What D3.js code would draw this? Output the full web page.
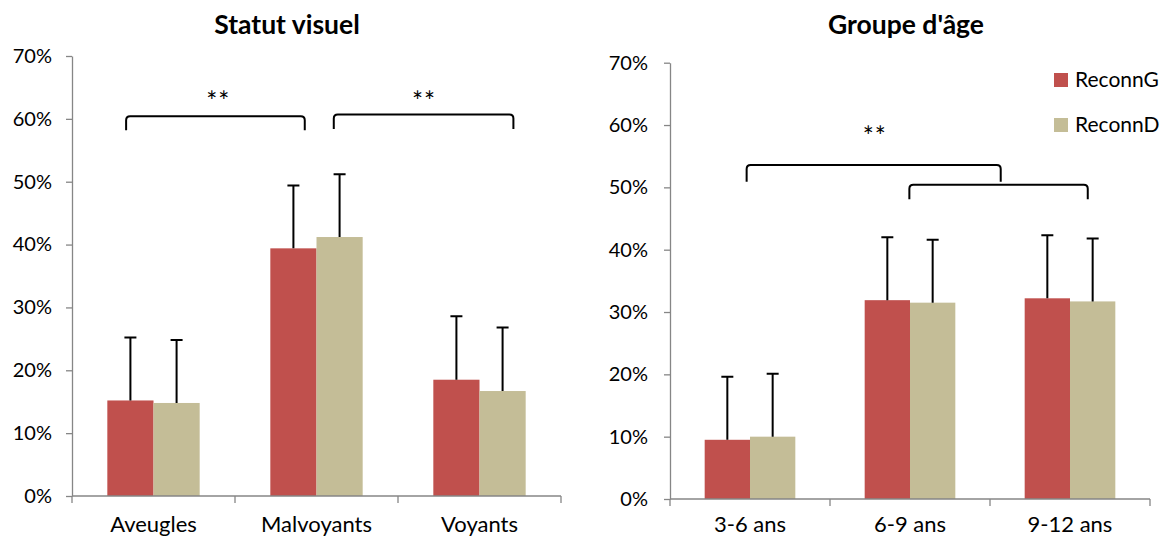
<!DOCTYPE html>
<html>
<head>
<meta charset="utf-8">
<script src="https://cdn.jsdelivr.net/npm/d3@7"></script>
<style>
  body { margin: 0; background: #fff; }
  text { font-family: Lato, "Noto Sans", sans-serif; fill: #000; }
</style>
</head>
<body>
<div id="chart"></div>
<script>
// data
const series = ["ReconnG", "ReconnD"];
const yTicks = [0, 0.1, 0.2, 0.3, 0.4, 0.5, 0.6, 0.7];

const visuelCategories = ["Aveugles", "Malvoyants", "Voyants"];
const visuelReconnG = [0.152, 0.394, 0.185];
const visuelReconnD = [0.148, 0.412, 0.167];
const visuelErrG = [0.100, 0.100, 0.101];
const visuelErrD = [0.100, 0.100, 0.101];

const ageCategories = ["3-6 ans", "6-9 ans", "9-12 ans"];
const ageReconnG = [0.095, 0.319, 0.322];
const ageReconnD = [0.100, 0.315, 0.317];
const ageErrG = [0.101, 0.101, 0.101];
const ageErrD = [0.101, 0.101, 0.101];

// significance brackets: [from, to] in category units, top / leg end in value units
const visuelBrackets = [
  {from: 0.332, to: 1.428, top: 0.604, end: 0.582},
  {from: 1.606, to: 2.708, top: 0.607, end: 0.584}
];
const visuelStars = [{at: 0.898, v: 0.613}, {at: 2.16, v: 0.613}];
const ageBrackets = [
  {from: 0.479, to: 2.067, top: 0.536, end: 0.509},
  {from: 1.496, to: 2.611, top: 0.504, end: 0.481}
];
const ageStars = [{at: 1.28, v: 0.566}];

const colors = {ReconnG: "#C0504D", ReconnD: "#C4BD97"};
const axisColor = "#868686";

const width = 1168, height = 539;
const svg = d3.create("svg").attr("width", width).attr("height", height);

function drawPanel(opts) {
  const g = svg.append("g");
  const x = d3.scaleBand().domain(opts.categories).range([opts.left, opts.right]);
  const xLin = d3.scaleLinear().domain([0, opts.categories.length]).range([opts.left, opts.right]);
  const xSub = d3.scaleBand().domain(series).range([0, x.bandwidth()]).paddingOuter(0.765);
  const y = d3.scaleLinear().domain([0, 0.7]).range([opts.bottom, opts.top]);

  // title
  g.append("text")
    .attr("x", opts.titleX)
    .attr("y", 34)
    .attr("text-anchor", "middle")
    .attr("font-size", 26.5)
    .attr("font-weight", "bold")
    .text(opts.title);

  // y axis
  g.append("g")
    .attr("transform", `translate(${opts.left},0)`)
    .call(d3.axisLeft(y).tickValues(yTicks).tickFormat(d3.format(".0%")).tickSize(6).tickPadding(opts.pad).tickSizeOuter(0))
    .call(a => a.selectAll("line, path").attr("stroke", axisColor).attr("stroke-width", 1.3))
    .call(a => a.selectAll("text").attr("font-size", 20).attr("font-family", "Lato, sans-serif").attr("fill", "#000"));

  // bars
  const rows = opts.categories.map((c, i) => ({
    cat: c,
    vals: [
      {s: "ReconnG", v: opts.g[i], e: opts.eg[i]},
      {s: "ReconnD", v: opts.d[i], e: opts.ed[i]}
    ]
  }));
  const grp = g.selectAll(".grp").data(rows).enter().append("g")
    .attr("transform", d => `translate(${x(d.cat)},0)`);
  grp.selectAll("rect").data(d => d.vals).enter().append("rect")
    .attr("x", d => xSub(d.s))
    .attr("width", xSub.bandwidth())
    .attr("y", d => y(d.v))
    .attr("height", d => y(0) - y(d.v))
    .attr("fill", d => colors[d.s]);
  // error bars (upper only)
  grp.selectAll(".err").data(d => d.vals).enter().append("path")
    .attr("d", d => {
      const cx = xSub(d.s) + xSub.bandwidth() / 2;
      return `M${cx},${y(d.v)}V${y(d.v + d.e)}M${cx - 6},${y(d.v + d.e)}H${cx + 6}`;
    })
    .attr("stroke", "#000")
    .attr("stroke-width", 2)
    .attr("fill", "none");

  // x axis
  g.append("line")
    .attr("x1", opts.left).attr("x2", opts.right)
    .attr("y1", y(0)).attr("y2", y(0))
    .attr("stroke", axisColor).attr("stroke-width", 1.3);
  g.selectAll(".xt").data(d3.range(opts.categories.length + 1)).enter().append("line")
    .attr("x1", d => xLin(d)).attr("x2", d => xLin(d))
    .attr("y1", y(0)).attr("y2", y(0) + 7)
    .attr("stroke", axisColor).attr("stroke-width", 1.3);
  g.selectAll(".xl").data(opts.categories).enter().append("text")
    .attr("x", d => x(d) + x.bandwidth() / 2)
    .attr("y", 532)
    .attr("text-anchor", "middle")
    .attr("font-size", 22)
    .text(d => d);

  // brackets
  const r = 4;
  g.selectAll(".br").data(opts.brackets).enter().append("path")
    .attr("d", b => {
      const x1 = xLin(b.from), x2 = xLin(b.to), yt = y(b.top), yb = y(b.end);
      return `M${x1},${yb}V${yt + r}Q${x1},${yt} ${x1 + r},${yt}H${x2 - r}Q${x2},${yt} ${x2},${yt + r}V${yb}`;
    })
    .attr("stroke", "#000")
    .attr("stroke-width", 2)
    .attr("fill", "none");
  g.selectAll(".st").data(opts.stars).enter().append("text")
    .attr("x", s => xLin(s.at))
    .attr("y", s => y(s.v))
    .attr("text-anchor", "middle")
    .attr("font-family", "'Liberation Sans', Arial, sans-serif")
    .attr("font-size", 26)
    .attr("letter-spacing", 1)
    .text("**");
}

drawPanel({
  title: "Statut visuel", titleX: 287,
  categories: visuelCategories,
  g: visuelReconnG, d: visuelReconnD, eg: visuelErrG, ed: visuelErrD,
  brackets: visuelBrackets, stars: visuelStars,
  left: 72, right: 561, top: 56, bottom: 496, pad: 14
});

drawPanel({
  title: "Groupe d'âge", titleX: 906,
  categories: ageCategories,
  g: ageReconnG, d: ageReconnD, eg: ageErrG, ed: ageErrD,
  brackets: ageBrackets, stars: ageStars,
  left: 670, right: 1150, top: 62.7, bottom: 499, pad: 16
});

// legend
const legend = svg.append("g").selectAll("g").data(series).enter().append("g")
  .attr("transform", (d, i) => `translate(1054,${73 + i * 45})`);
legend.append("rect").attr("width", 14).attr("height", 14).attr("fill", d => colors[d]);
legend.append("text").attr("x", 21).attr("y", 14).attr("font-size", 21).text(d => d);

document.getElementById("chart").appendChild(svg.node());
</script>
</body>
</html>
